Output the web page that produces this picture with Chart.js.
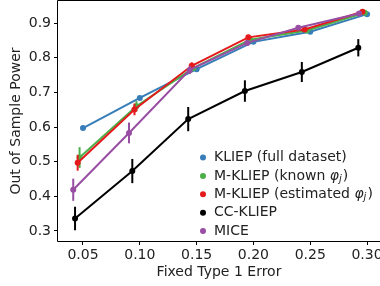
<!DOCTYPE html>
<html>
<head>
<meta charset="utf-8">
<script src="https://cdn.jsdelivr.net/npm/chart.js@4/dist/chart.umd.min.js"></script>
<style>
html,body{margin:0;padding:0;background:#fff;}
canvas{display:block;}
</style>
</head>
<body>
<canvas id="c" width="380" height="286"></canvas>
<script>
// ---- data ----
const seriesNames = ["KLIEP (full dataset)", "M-KLIEP (known φj)", "M-KLIEP (estimated φj)", "CC-KLIEP", "MICE"];
const klieX = [0.050, 0.100, 0.150, 0.200, 0.250, 0.300];
const klieY = [0.597, 0.684, 0.767, 0.846, 0.875, 0.926];
const klieE = [0.004, 0.004, 0.004, 0.003, 0.003, 0.003];
const knownX = [0.047, 0.097, 0.147, 0.197, 0.247, 0.298];
const knownY = [0.512, 0.660, 0.770, 0.852, 0.879, 0.930];
const knownE = [0.030, 0.015, 0.008, 0.006, 0.005, 0.005];
const estX = [0.0453, 0.0953, 0.1457, 0.1955, 0.245, 0.296];
const estY = [0.497, 0.651, 0.777, 0.859, 0.882, 0.933];
const estE = [0.023, 0.017, 0.010, 0.006, 0.005, 0.005];
const ccX = [0.043, 0.0934, 0.1426, 0.1925, 0.2426, 0.2923];
const ccY = [0.336, 0.473, 0.623, 0.704, 0.759, 0.829];
const ccE = [0.034, 0.035, 0.035, 0.031, 0.029, 0.025];
const miceX = [0.0414, 0.0905, 0.144, 0.1945, 0.2395, 0.293];
const miceY = [0.419, 0.583, 0.765, 0.843, 0.887, 0.928];
const miceE = [0.032, 0.030, 0.012, 0.008, 0.006, 0.005];
const xTicks = [0.05, 0.10, 0.15, 0.20, 0.25, 0.30];
const yTicks = [0.3, 0.4, 0.5, 0.6, 0.7, 0.8, 0.9];
const colors = ["#377eb8", "#4daf4a", "#e41a1c", "#000000", "#984ea3"];

const xs = [klieX, knownX, estX, ccX, miceX];
const ys = [klieY, knownY, estY, ccY, miceY];
const es = [klieE, knownE, estE, ccE, miceE];

const FONT = "'DejaVu Sans', sans-serif";

const datasets = seriesNames.map((name, i) => ({
  label: name,
  data: xs[i].map((x, j) => ({x: x, y: ys[i][j]})),
  borderColor: colors[i],
  backgroundColor: colors[i],
  pointBackgroundColor: colors[i],
  pointBorderWidth: 0,
  pointRadius: 3,
  borderWidth: 2,
  tension: 0,
  order: 5 - i,
  errors: es[i]
}));

const errorBars = {
  id: 'errorBars',
  afterDatasetDraw(chart, args) {
    const ds = chart.data.datasets[args.index];
    const meta = args.meta;
    const ys = chart.scales.y;
    const ctx = chart.ctx;
    const a = chart.chartArea;
    ctx.save();
    ctx.beginPath();
    ctx.rect(a.left, a.top, a.right - a.left, a.bottom - a.top);
    ctx.clip();
    ctx.strokeStyle = ds.borderColor;
    ctx.lineWidth = 2;
    ds.data.forEach((p, j) => {
      const e = ds.errors[j];
      const px = meta.data[j].x;
      ctx.beginPath();
      ctx.moveTo(px, ys.getPixelForValue(p.y - e));
      ctx.lineTo(px, ys.getPixelForValue(p.y + e));
      ctx.stroke();
    });
    ctx.restore();
  }
};

const frameAndLegend = {
  id: 'frameAndLegend',
  afterDraw(chart) {
    const ctx = chart.ctx;
    const a = chart.chartArea;
    ctx.save();
    ctx.strokeStyle = '#000';
    ctx.lineWidth = 1;
    ctx.beginPath();
    ctx.moveTo(a.left - 0.5, a.top - 0.5);
    ctx.lineTo(a.right + 0.5, a.top - 0.5);
    ctx.moveTo(a.left - 0.5, a.top - 0.5);
    ctx.lineTo(a.left - 0.5, a.bottom + 0.5);
    ctx.lineTo(a.right + 0.5, a.bottom + 0.5);
    ctx.stroke();

    // legend
    const lx = 203, tx = 214, y0 = 157.5, dy = 18.4;
    ctx.textBaseline = 'middle';
    seriesNames.forEach((name, i) => {
      const y = y0 + i * dy;
      ctx.fillStyle = colors[i];
      ctx.beginPath();
      ctx.arc(lx, y, 3, 0, Math.PI * 2);
      ctx.fill();
      ctx.fillStyle = '#222';
      let x = tx;
      const m = name.match(/^(.*)φj(\))$/);
      if (m) {
        ctx.font = '14px ' + FONT;
        ctx.fillText(m[1], x, y);
        x += ctx.measureText(m[1]).width;
        ctx.font = 'italic 14px ' + FONT;
        ctx.fillText('φ', x, y);
        x += ctx.measureText('φ').width;
        ctx.font = 'italic 10px ' + FONT;
        ctx.fillText('j', x, y + 3.5);
        x += ctx.measureText('j').width + 1;
        ctx.font = '14px ' + FONT;
        ctx.fillText(m[2], x, y);
      } else {
        ctx.font = '14px ' + FONT;
        ctx.fillText(name, x, y);
      }
    });
    ctx.restore();
  }
};

new Chart(document.getElementById('c'), {
  type: 'line',
  data: { datasets: datasets },
  options: {
    responsive: false,
    devicePixelRatio: 1,
    animation: false,
    layout: { autoPadding: false, padding: { left: 0, right: 0, top: 1, bottom: 0 } },
    plugins: { legend: { display: false }, tooltip: { enabled: false } },
    scales: {
      x: {
        type: 'linear',
        min: 0.028,
        max: 0.3114,
        afterBuildTicks(s) { s.ticks = xTicks.map(v => ({value: v})); },
        afterFit(s) { s.height = 45; s.paddingLeft = 0; s.paddingRight = 0; },
        ticks: {
          color: '#222', padding: 2, maxRotation: 0, autoSkip: false,
          font: { family: FONT, size: 14 },
          callback: v => Number(v).toFixed(2)
        },
        grid: { display: true, drawOnChartArea: false, drawTicks: true, tickLength: 4, color: '#000', tickWidth: 1 },
        border: { display: false },
        title: { display: true, text: 'Fixed Type 1 Error', color: '#222', font: { family: FONT, size: 14 }, padding: { top: 0, bottom: 5.6 } }
      },
      y: {
        type: 'linear',
        min: 0.271,
        max: 0.964,
        afterBuildTicks(s) { s.ticks = yTicks.map(v => ({value: v})); },
        afterFit(s) { s.width = 58; s.paddingTop = 0; s.paddingBottom = 0; },
        ticks: {
          color: '#222', padding: 3, autoSkip: false,
          font: { family: FONT, size: 14 },
          callback: v => Number(v).toFixed(1)
        },
        grid: { display: true, drawOnChartArea: false, drawTicks: true, tickLength: 4, color: '#000', tickWidth: 1 },
        border: { display: false },
        title: { display: true, text: 'Out of Sample Power', color: '#222', font: { family: FONT, size: 14 }, padding: { top: 7.6, bottom: 0 } }
      }
    }
  },
  plugins: [errorBars, frameAndLegend]
});
</script>
</body>
</html>
